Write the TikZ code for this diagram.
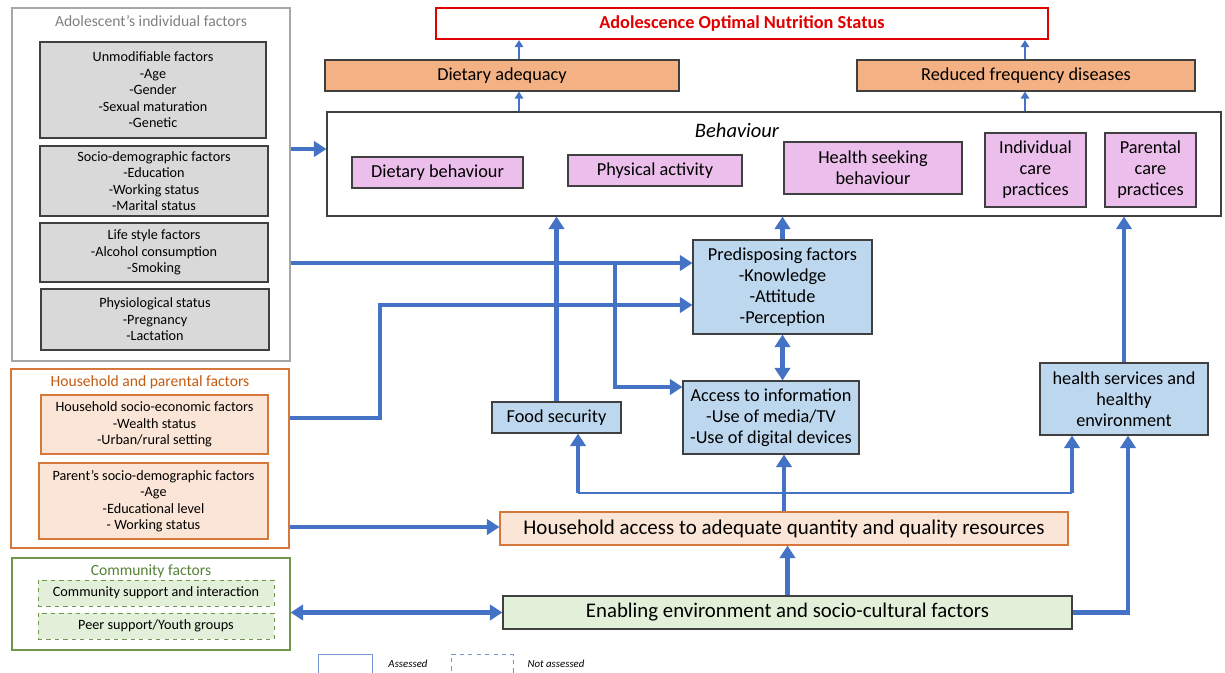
\documentclass[tikz,border=0pt]{standalone}
\usepackage{fontspec}
\setmainfont{Carlito}
\usepackage{xcolor}
\usetikzlibrary{arrows.meta,positioning}
\newcommand{\pxl}{0.025cm}
\newcommand{\smalltxt}{\fontsize{10.1}{11.7}\selectfont}
\newcommand{\titletxt}{\fontsize{11.1}{13}\selectfont}
\newcommand{\boxtxt}{\fontsize{13}{14.9}\selectfont}
\newcommand{\bigtxt}{\fontsize{14.9}{17}\selectfont}
\newcommand{\legtxt}{\fontsize{7.7}{9}\selectfont}
\definecolor{arrowblue}{RGB}{68,114,196}
\definecolor{greyfill}{RGB}{217,217,217}
\definecolor{darkline}{RGB}{64,64,64}
\definecolor{panelgrey}{RGB}{166,166,166}
\definecolor{peach}{RGB}{251,229,214}
\definecolor{orangeline}{RGB}{214,120,60}
\definecolor{orangetxt}{RGB}{197,90,17}
\definecolor{adeqfill}{RGB}{244,177,131}
\definecolor{pinkfill}{RGB}{235,190,235}
\definecolor{bluefill}{RGB}{189,215,238}
\definecolor{greenfill}{RGB}{226,240,217}
\definecolor{greenline}{RGB}{112,150,80}
\definecolor{greentxt}{RGB}{84,130,53}
\definecolor{goalred}{RGB}{224,0,0}
\definecolor{legblue}{RGB}{120,150,210}

\begin{document}
\begin{tikzpicture}[x=0.025cm, y=-0.025cm,
    every node/.style={inner sep=0pt, align=center},
    sz/.style 2 args={minimum width=#1*\pxl, minimum height=#2*\pxl},
    panel/.style={draw=#1, line width=0.8pt},
    greybox/.style={draw=darkline, fill=greyfill, line width=0.8pt, font=\smalltxt},
    peachbox/.style={draw=orangeline, fill=peach, line width=0.8pt, font=\smalltxt},
    greenbox/.style={draw=greenline, fill=greenfill, dashed, line width=0.7pt, font=\smalltxt},
    pinkbox/.style={draw=darkline, fill=pinkfill, line width=0.8pt, font=\boxtxt},
    bluebox/.style={draw=darkline, fill=bluefill, line width=0.8pt, font=\boxtxt},
    outcome/.style={draw=darkline, fill=adeqfill, line width=0.8pt, font=\boxtxt},
    flow/.style={draw=arrowblue, line width=3.5pt, -{Triangle[length=9pt,width=11pt]}},
    flowboth/.style={draw=arrowblue, line width=3.5pt, {Triangle[length=9pt,width=11pt]}-{Triangle[length=9pt,width=11pt]}},
    flowthin/.style={draw=arrowblue, line width=2pt, -{Triangle[length=5pt,width=6pt]}}]
\useasboundingbox (0,0) rectangle (1225,672);

% Adolescent's individual factors
\node[panel=panelgrey, sz={278}{353}] (indiv) at (151,184.5) {};
\node[font=\titletxt, text=gray] (indivT) at (151,21) {Adolescent’s individual factors};
\node[greybox, sz={226}{96}] (unmod) at (153,90) {Unmodifiable factors\\-Age\\-Gender\\-Sexual maturation\\-Genetic};
\node[greybox, sz={228}{70}] (sociod) at (154,181) {Socio-demographic factors\\-Education\\-Working status\\-Marital status};
\node[greybox, sz={228}{59}] (life) at (154,252.5) {Life style factors\\-Alcohol consumption\\-Smoking};
\node[greybox, sz={228}{61}] (physio) at (155,319.5) {Physiological status\\-Pregnancy\\-Lactation};

% Household and parental factors
\node[panel=orangeline, sz={278}{179}] (hh) at (150,458.5) {};
\node[font=\titletxt, text=orangetxt] (hhT) at (150,382) {Household and parental factors};
\node[peachbox, sz={227}{59}] (hhse) at (154.5,424.5) {Household socio-economic factors\\-Wealth status\\-Urban/rural setting};
\node[peachbox, sz={229}{76}] (parent) at (153.5,501) {Parent’s socio-demographic factors\\-Age\\-Educational level\\- Working status};

% Community factors
\node[panel=greenline, sz={278}{92}] (comm) at (151,604) {};
\node[font=\titletxt, text=greentxt] (commT) at (151,571) {Community factors};
\node[greenbox, sz={236}{26}] (commsup) at (156,593) {Community support and interaction};
\node[greenbox, sz={236}{26}] (peer) at (156,626) {Peer support/Youth groups};

% Legend
\node[draw=legblue, line width=0.6pt, sz={54}{24}] (legA) at (345,666) {};
\node[font=\legtxt\itshape] (legAT) at (408,664) {Assessed};
\node[draw=legblue, dashed, line width=0.6pt, sz={62}{24}] (legN) at (482,666) {};
\node[font=\legtxt\itshape] (legNT) at (556,664) {Not assessed};

% Outcomes
\node[draw=goalred, line width=1.5pt, sz={612}{31}, font=\fontsize{13}{14}\selectfont\bfseries, text=goalred] (goal) at (742,23.5) {Adolescence Optimal Nutrition Status};
\node[outcome, sz={354}{31}] (adeq) at (502,75.5) {Dietary adequacy};
\node[outcome, sz={338}{31}] (disease) at (1026,75.5) {Reduced frequency diseases};

% Behaviour
\node[draw=darkline, line width=0.8pt, sz={894}{104}] (behav) at (774,164) {};
\node[font=\fontsize{14.6}{16}\selectfont\itshape] (behavT) at (737,130) {Behaviour};
\node[pinkbox, sz={171}{31}] (dietb) at (437.5,172.5) {Dietary behaviour};
\node[pinkbox, sz={174}{31}] (phys) at (655,170.5) {Physical activity};
\node[pinkbox, sz={178}{52}] (health) at (873,168) {Health seeking\\behaviour};
\node[pinkbox, sz={101}{74}] (indcare) at (1035.5,170) {Individual\\care\\practices};
\node[pinkbox, sz={91}{74}] (parcare) at (1150.5,170) {Parental\\care\\practices};

% Mediating factors
\node[bluebox, sz={179}{94}] (predis) at (782.5,287) {Predisposing factors\\-Knowledge\\-Attitude\\-Perception};
\node[bluebox, sz={176}{73}] (access) at (771,417.5) {Access to information\\-Use of media/TV\\-Use of digital devices};
\node[bluebox, sz={129}{31}] (food) at (556.5,417.5) {Food security};
\node[bluebox, sz={168}{72}] (hserv) at (1124,399) {health services and\\healthy\\environment};
\node[draw=orangeline, fill=peach, line width=0.8pt, sz={568}{33}, font=\bigtxt] (hhacc) at (784,528.5) {Household access to adequate quantity and quality resources};
\node[draw=darkline, fill=greenfill, line width=0.8pt, sz={569}{33}, font=\fontsize{14.8}{17}\selectfont] (enab) at (787.5,612.5) {Enabling environment and socio-cultural factors};

% Arrows to outcomes
\draw[flowthin] (adeq.north -| 519,0) -- (goal.south -| 519,0);
\draw[flowthin] (behav.north -| 519,0) -- (adeq.south -| 519,0);
\draw[flowthin] (disease.north -| 1025,0) -- (goal.south -| 1025,0);
\draw[flowthin] (behav.north -| 1025,0) -- (disease.south -| 1025,0);

% Arrows from left panels
\coordinate (split) at (615,263);
\coordinate (bend) at (380,305);
\draw[flow] (indiv.east |- 0,149) -- (behav.west |- 0,149);
\draw[flow] (indiv.east |- split) -- (predis.west |- split);
\draw[flow] (split) |- (access.west |- 0,387);
\draw[flow] (hh.east |- 0,418) -| (bend) -- (predis.west |- bend);
\draw[flow] (hh.east |- 0,527) -- (hhacc.west |- 0,527);
\draw[flowboth] (comm.east |- enab.west) -- (enab.west);

% Arrows into behaviour
\draw[flow] (food.north) -- (behav.south -| food.north);
\draw[flow] (predis.north) -- (behav.south -| predis.north);
\draw[flow] (hserv.north) -- (behav.south -| hserv.north);
\draw[flowboth] (predis.south) -- (access.north -| predis.south);

% Resources
\coordinate (fsplit) at (578,493);
\coordinate (hsplit) at (1072,493);
\draw[draw=arrowblue, line width=2pt] (fsplit) -- (hsplit);
\draw[flow] (fsplit) -- (food.south -| fsplit);
\draw[flow] (hsplit) -- (hserv.south -| hsplit);
\draw[flow] (hhacc.north) -- (access.south -| hhacc.north);
\draw[flow] (enab.north) -- (hhacc.south -| enab.north);
\draw[flow] (enab.east) -| (1128,0 |- hserv.south);
\end{tikzpicture}
\end{document}
